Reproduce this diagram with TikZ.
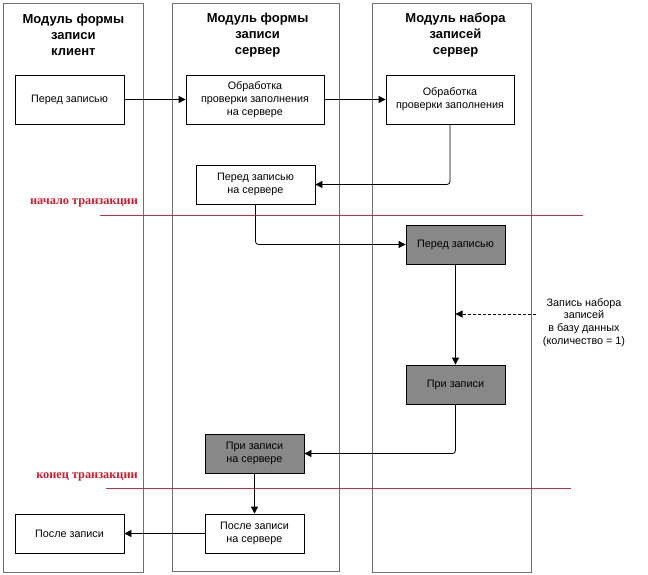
\documentclass[tikz,border=0pt]{standalone}
\usepackage{fontspec}
\setmainfont{Liberation Sans}
\newfontfamily\redserif{Liberation Serif}
\usetikzlibrary{arrows.meta}
\definecolor{laneborder}{RGB}{112,112,112}
\definecolor{boxgray}{RGB}{136,136,136}
\definecolor{redline}{RGB}{185,50,75}
\definecolor{redtext}{RGB}{200,30,48}
\tikzset{
  lane/.style={draw=laneborder, line width=0.9pt, inner sep=0pt},
  lanetitle/.style={font=\bfseries\fontsize{13}{16}\selectfont, align=center, inner sep=0pt},
  stepbox/.style={draw=black, line width=0.8pt, fill=white, align=center, inner sep=0pt,
    font=\fontsize{10.8}{13}\selectfont},
  graybox/.style={stepbox, fill=boxgray},
  arr/.style={draw=black, line width=0.8pt, -{Triangle[length=7pt,width=7pt]}, rounded corners=3pt},
  dasharr/.style={arr, dash pattern=on 3pt off 2pt},
  trline/.style={draw=redline, line width=1.1pt},
  trlabel/.style={text=redtext, font=\redserif\bfseries\fontsize{12.3}{14}\selectfont, inner sep=0pt},
  note/.style={align=center, inner sep=0pt, font=\fontsize{10.8}{12.7}\selectfont}
}
\begin{document}
\begin{tikzpicture}[x=1pt,y=-1pt]
\useasboundingbox (0,0) rectangle (648,575);
% lanes
\node[lane, minimum width=140pt, minimum height=569pt] (L1) at (73,287.5) {};
\node[lane, minimum width=167.5pt, minimum height=568pt] (L2) at (255.75,287) {};
\node[lane, minimum width=159pt, minimum height=569pt] (L3) at (451.5,287.5) {};
% titles
\node[lanetitle] (T1) at (73.4,35) {Модуль формы\\записи\\клиент};
\node[lanetitle] (T2) at (257.6,35) {Модуль формы\\записи\\сервер};
\node[lanetitle] (T3) at (455.5,35) {Модуль набора\\записей\\сервер};
% boxes
\node[stepbox, minimum width=109pt, minimum height=49pt] (A) at (69.5,99.5) {Перед записью};
\node[stepbox, minimum width=138pt, minimum height=49pt] (B) at (255,99.5) {Обработка\\проверки заполнения\\на сервере};
\node[stepbox, minimum width=128pt, minimum height=49pt] (C) at (450,99.5) {Обработка\\проверки заполнения};
\node[stepbox, minimum width=119pt, minimum height=39pt] (D) at (255.5,184.5) {Перед записью\\на сервере};
\node[graybox, minimum width=99pt, minimum height=39pt] (E) at (455.5,244.5) {Перед записью};
\node[graybox, minimum width=99pt, minimum height=39pt] (F) at (455.5,384.5) {При записи};
\node[graybox, minimum width=99pt, minimum height=39pt] (G) at (254.5,453.5) {При записи\\на сервере};
\node[stepbox, minimum width=99pt, minimum height=39pt] (H) at (254.5,533.5) {После записи\\на сервере};
\node[stepbox, minimum width=109pt, minimum height=39pt] (I) at (69.5,533.5) {После записи};
% transaction lines
\node[trlabel] (tr1) at (84,203) {начало транзакции};
\draw[trline] (100,215.5) -- (583,215.5);
\node[trlabel] (tr2) at (87,477) {конец транзакции};
\draw[trline] (106,488.5) -- (571,488.5);
% note
\node[note] (N) at (584,322.5) {Запись набора\\записей\\в базу данных\\(количество = 1)};
\coordinate (ds) at (536,314);
% connectors
\draw[arr] (A) -- (B);
\draw[arr] (B) -- (C);
\draw[arr] (C.south) |- (D.east);
\draw[arr] (D.south) |- (E.west);
\draw[arr] (E) -- (F);
\draw[dasharr] (ds) -- (ds -| E.south);
\draw[arr] (F.south) |- (G.east);
\draw[arr] (G) -- (H);
\draw[arr] (H) -- (I);
\end{tikzpicture}
\end{document}
